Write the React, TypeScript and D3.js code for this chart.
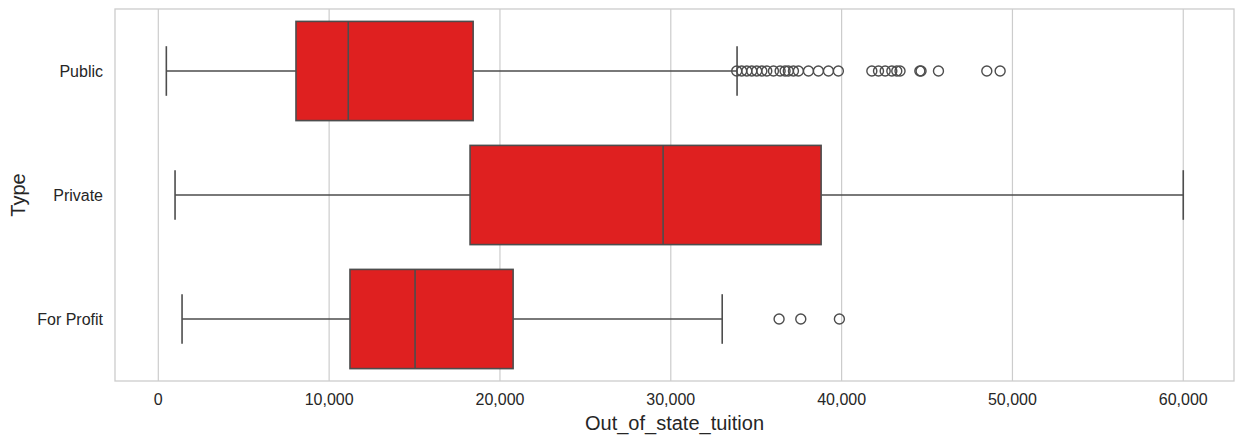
import React from "react";
import * as d3 from "d3";

const categories = ["Public", "Private", "For Profit"];
const whiskerLow = [470, 980, 1390];
const q1 = [8060, 18250, 11220];
const median = [11120, 29550, 15030];
const q3 = [18430, 38800, 20770];
const whiskerHigh = [33880, 60000, 33010];
const outliersPublic = [33860, 34150, 34450, 34740, 35030, 35330, 35620, 36010, 36400, 36690, 36880, 37180, 37470, 38060, 38640, 39230, 39810, 41770, 42160, 42550, 42940, 43230, 43420, 44580, 44650, 45670, 48500, 49280];
const outliersPrivate: number[] = [];
const outliersForProfit = [36340, 37610, 39870];
const outliers = [outliersPublic, outliersPrivate, outliersForProfit];
const xTicks = [0, 10000, 20000, 30000, 40000, 50000, 60000];

const W = 1237;
const H = 439;
const M = { left: 115, right: 3, top: 9, bottom: 58 };

export default function App() {
  const x = d3.scaleLinear().domain([-2535, 62970]).range([M.left, W - M.right]);
  const y = d3.scaleBand().domain(categories).range([M.top, H - M.bottom]);
  const bw = y.bandwidth() * 0.8;
  const line = "#4d4d4d";
  const grid = "#cccccc";
  const fmt = d3.format(",");
  const font = "'Liberation Sans', Arial, sans-serif";
  return (
    <svg width={W} height={H} style={{ position: "absolute", left: 0, top: 0 }} fontFamily={font}>
      <rect x={0} y={0} width={W} height={H} fill="#fff" />
      {xTicks.map((t) => (
        <line key={t} x1={x(t)} x2={x(t)} y1={M.top} y2={H - M.bottom} stroke={grid} strokeWidth={1.2} />
      ))}
      <rect x={M.left} y={M.top} width={W - M.left - M.right} height={H - M.top - M.bottom} fill="none" stroke={grid} strokeWidth={1.3} />
      {categories.map((c, i) => {
        const cy = (y(c) as number) + y.bandwidth() / 2;
        const top = cy - bw / 2;
        return (
          <g key={c}>
            <line x1={x(whiskerLow[i])} x2={x(q1[i])} y1={cy} y2={cy} stroke={line} strokeWidth={1.6} />
            <line x1={x(q3[i])} x2={x(whiskerHigh[i])} y1={cy} y2={cy} stroke={line} strokeWidth={1.6} />
            <line x1={x(whiskerLow[i])} x2={x(whiskerLow[i])} y1={cy - bw / 4} y2={cy + bw / 4} stroke={line} strokeWidth={1.6} />
            <line x1={x(whiskerHigh[i])} x2={x(whiskerHigh[i])} y1={cy - bw / 4} y2={cy + bw / 4} stroke={line} strokeWidth={1.6} />
            <rect x={x(q1[i])} y={top} width={x(q3[i]) - x(q1[i])} height={bw} fill="#df2020" stroke={line} strokeWidth={1.6} />
            <line x1={x(median[i])} x2={x(median[i])} y1={top} y2={top + bw} stroke={line} strokeWidth={1.6} />
            {outliers[i].map((v, j) => (
              <circle key={j} cx={x(v)} cy={cy} r={5} fill="none" stroke={line} strokeWidth={1.4} />
            ))}
            <text x={M.left - 12} y={cy} textAnchor="end" dominantBaseline="central" fontSize={16} fill="#262626">{c}</text>
          </g>
        );
      })}
      {xTicks.map((t) => (
        <text key={t} x={x(t)} y={405} textAnchor="middle" fontSize={16} fill="#262626">{fmt(t)}</text>
      ))}
      <text x={(M.left + W - M.right) / 2} y={430} textAnchor="middle" fontSize={20} fill="#262626">Out_of_state_tuition</text>
      <text transform={`translate(25, ${(M.top + H - M.bottom) / 2}) rotate(-90)`} textAnchor="middle" fontSize={20} fill="#262626">Type</text>
    </svg>
  );
}
